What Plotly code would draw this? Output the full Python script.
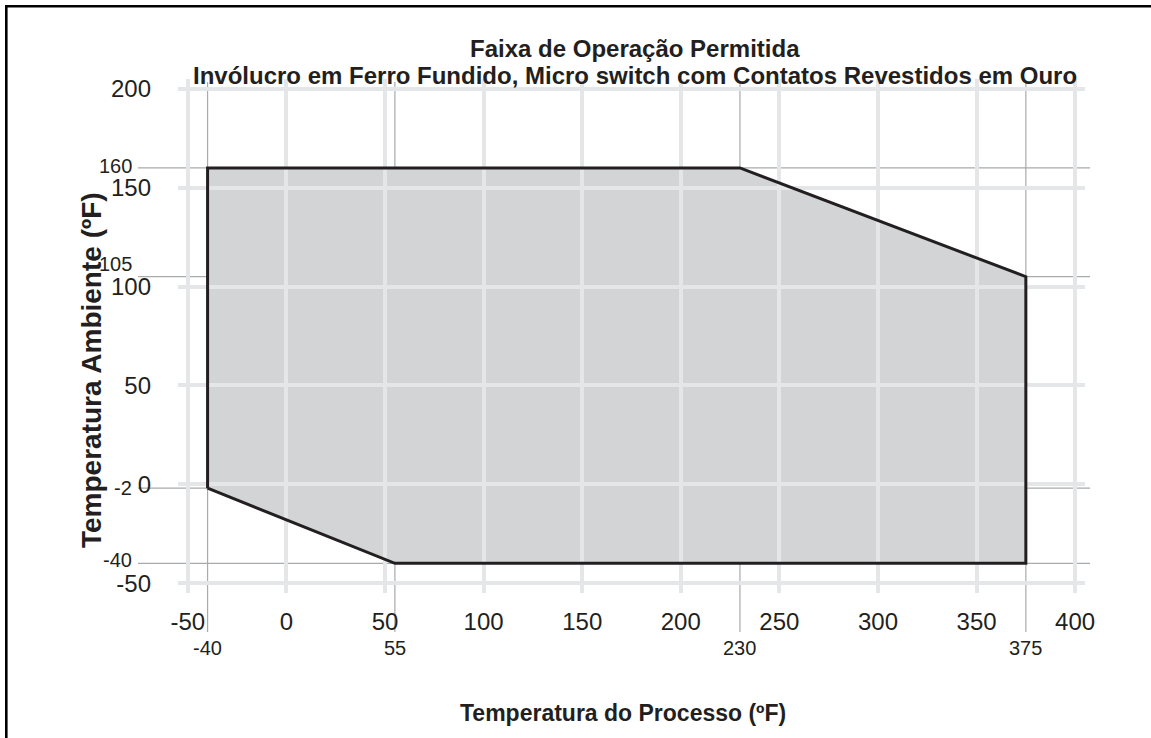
import plotly.graph_objects as go

# ---- data ----
poly_x = [-40, -40, 230, 375, 375, 55]
poly_y = [-2, 160, 160, 105, -40, -40]
x_ticks = [-50, 0, 50, 100, 150, 200, 250, 300, 350, 400]
y_ticks = [-50, 0, 50, 100, 150, 200]
x_marks = [-40, 55, 230, 375]
y_marks = [160, 105, -2, -40]
title_lines = ["Faixa de Operação Permitida",
               "Invólucro em Ferro Fundido, Micro switch com Contatos Revestidos em Ouro"]
x_title = "Temperatura do Processo (ºF)"
y_title = "Temperatura Ambiente (ºF)"

FONT = "Liberation Sans, Arial, Helvetica, sans-serif"
INK = "#231f20"
GRID = "#e5e6e8"
REF = "#a9aaac"
FILL = "#d3d4d6"

W, H = 1151, 738
L, R, T, B = 178, 66, 79, 145
PW, PH = W - L - R, H - T - B


def px_to_paper_x(px):
    return (px - L) / PW


def px_to_paper_y(py):
    return (H - B - py) / PH


fig = go.Figure()

# outline of the permitted area
fig.add_trace(go.Scatter(
    x=poly_x + poly_x[:1], y=poly_y + poly_y[:1], mode="lines",
    line=dict(color=INK, width=3), hoverinfo="skip", showlegend=False))

shapes = []
# filled area beneath grid
path = "M " + " L ".join(f"{x},{y}" for x, y in zip(poly_x, poly_y)) + " Z"
shapes.append(dict(type="path", path=path, xref="x", yref="y", layer="below",
                   fillcolor=FILL, line=dict(width=0)))
# reference lines
for xv in x_marks:
    shapes.append(dict(type="line", xref="x", yref="paper", x0=xv, x1=xv,
                       y0=px_to_paper_y(632), y1=px_to_paper_y(82),
                       line=dict(color=REF, width=1.2), layer="between"))
for yv in y_marks:
    shapes.append(dict(type="line", xref="paper", yref="y", y0=yv, y1=yv,
                       x0=px_to_paper_x(138), x1=px_to_paper_x(1090),
                       line=dict(color=REF, width=1.2), layer="between"))
# outer frame (top & left visible)
shapes.append(dict(type="rect", xref="paper", yref="paper",
                   x0=px_to_paper_x(6.3), x1=px_to_paper_x(1200),
                   y0=px_to_paper_y(800), y1=px_to_paper_y(6.3),
                   line=dict(color="#000000", width=2.6), fillcolor="rgba(0,0,0,0)",
                   layer="above"))

annotations = []
annotations.append(dict(text=f"<b>{title_lines[0]}</b>", xref="paper", yref="paper",
                        x=px_to_paper_x(635), y=px_to_paper_y(48), showarrow=False,
                        xanchor="center", yanchor="middle",
                        font=dict(family=FONT, size=24, color=INK)))
annotations.append(dict(text=f"<b>{title_lines[1]}</b>", xref="paper", yref="paper",
                        x=px_to_paper_x(635), y=px_to_paper_y(75.5), showarrow=False,
                        xanchor="center", yanchor="middle",
                        font=dict(family=FONT, size=24, color=INK)))
annotations.append(dict(text=f"<b>{x_title}</b>", xref="paper", yref="paper",
                        x=px_to_paper_x(623), y=px_to_paper_y(713), showarrow=False,
                        xanchor="center", yanchor="middle",
                        font=dict(family=FONT, size=23, color=INK)))
annotations.append(dict(text=f"<b>{y_title}</b>", xref="paper", yref="paper",
                        x=px_to_paper_x(91), y=px_to_paper_y(370), showarrow=False,
                        xanchor="center", yanchor="middle", textangle=-90,
                        font=dict(family=FONT, size=28, color=INK)))
for xv in x_marks:
    annotations.append(dict(text=str(xv), xref="x", yref="paper", x=xv,
                            y=px_to_paper_y(648), showarrow=False,
                            xanchor="center", yanchor="middle",
                            font=dict(family=FONT, size=20, color=INK)))
# small upward nudges keep these labels clear of the main tick labels
y_label_nudge = {160: 2, 105: 13, -2: 0, -40: 3}
for yv in y_marks:
    annotations.append(dict(text=str(yv), xref="paper", yref="y", y=yv,
                            x=px_to_paper_x(133), showarrow=False,
                            xanchor="right", yanchor="middle",
                            yshift=y_label_nudge[yv], borderpad=0,
                            font=dict(family=FONT, size=20, color=INK)))

fig.update_layout(
    width=W, height=H,
    margin=dict(l=L, r=R, t=T, b=B, pad=0),
    paper_bgcolor="white", plot_bgcolor="white",
    shapes=shapes, annotations=annotations, showlegend=False,
    xaxis=dict(range=[-55, 405], tickvals=x_ticks, ticktext=[str(v) for v in x_ticks],
               showgrid=True, gridcolor=GRID, gridwidth=4, zeroline=False,
               showline=False, ticks="", ticklabelstandoff=12,
               tickfont=dict(family=FONT, size=24, color=INK), fixedrange=True),
    yaxis=dict(range=[-55, 205], tickvals=y_ticks, ticktext=[str(v) for v in y_ticks],
               showgrid=True, gridcolor=GRID, gridwidth=4, zeroline=False,
               showline=False, ticks="", ticklabelstandoff=26,
               tickfont=dict(family=FONT, size=24, color=INK), fixedrange=True),
)

fig.write_html("out.html", config={"displayModeBar": False},
               post_script="document.body.style.margin='0px';document.body.style.overflow='hidden';")
